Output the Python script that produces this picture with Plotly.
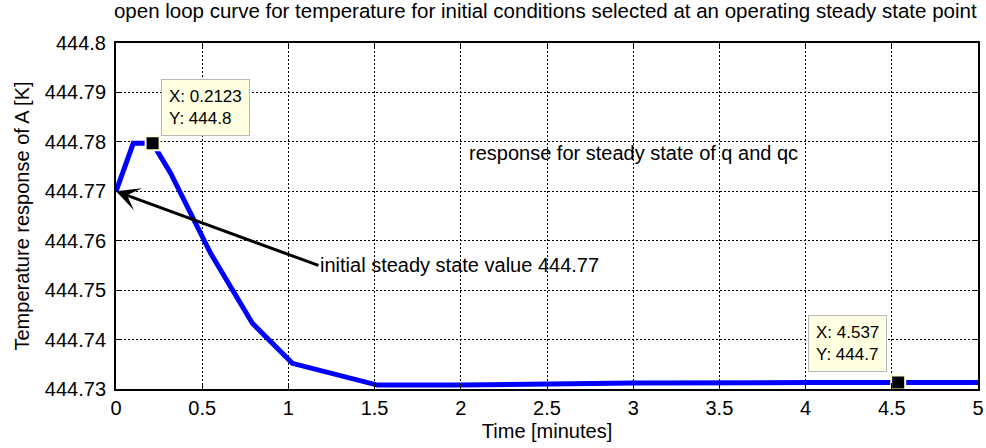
import plotly.graph_objects as go

# ---- data ----
time_min = [0, 0.1, 0.2123, 0.316, 0.548, 0.791, 1.023, 1.516, 2.0, 3.0, 4.0, 4.537, 5.0]
temp_K = [444.77, 444.7797, 444.7797, 444.7737, 444.7575, 444.7433, 444.7352,
          444.7308, 444.7308, 444.7312, 444.7313, 444.7313, 444.7313]

tip_x = [0.2123, 4.537]
tip_y = [444.7797, 444.7313]
tip_labels = ["X: 0.2123<br>Y: 444.8", "X: 4.537<br>Y: 444.7"]

y_ticks = [444.73, 444.74, 444.75, 444.76, 444.77, 444.78, 444.79, 444.80]
y_ticklabels = ["444.73", "444.74", "444.75", "444.76", "444.77", "444.78", "444.79", "444.8"]
x_ticks = [0, 0.5, 1, 1.5, 2, 2.5, 3, 3.5, 4, 4.5, 5]
x_ticklabels = ["0", "0.5", "1", "1.5", "2", "2.5", "3", "3.5", "4", "4.5", "5"]

initial_value = 444.77

FONT = "Liberation Sans, Arial, sans-serif"

fig = go.Figure()
fig.add_trace(go.Scatter(x=time_min, y=temp_K, mode="lines",
                         line=dict(color="#0000ff", width=5),
                         showlegend=False, hoverinfo="skip", cliponaxis=False))
fig.add_trace(go.Scatter(x=tip_x, y=tip_y, mode="markers",
                         marker=dict(symbol="square", size=14, color="#000000",
                                     line=dict(color="#ffffe1", width=2)),
                         showlegend=False, hoverinfo="skip", cliponaxis=False))

tip_box = dict(showarrow=False, align="left", bgcolor="#ffffe1",
               bordercolor="#b8b8b8", borderwidth=1, borderpad=7,
               font=dict(family=FONT, size=17, color="#000"), yanchor="bottom")
fig.add_annotation(x=tip_x[0], y=tip_y[0], text=tip_labels[0], xanchor="left",
                   xshift=8, yshift=7, **tip_box)
fig.add_annotation(x=tip_x[1], y=tip_y[1], text=tip_labels[1], xanchor="right",
                   xshift=-11, yshift=11, **tip_box)

fig.add_annotation(x=time_min[0], y=initial_value, ax=1.174, ay=444.755,
                   axref="x", ayref="y", xref="x", yref="y",
                   text="initial steady state value 444.77", xanchor="left",
                   showarrow=True, arrowhead=3, arrowsize=1.3, arrowwidth=3,
                   arrowcolor="#000", font=dict(family=FONT, size=20, color="#000"))
fig.add_annotation(x=2.038, y=444.7777, text="response for steady state of q and qc",
                   xanchor="left", showarrow=False,
                   font=dict(family=FONT, size=20, color="#000"))

axis_common = dict(showline=True, linecolor="#000", linewidth=2, mirror="ticks",
                   ticks="inside", ticklen=6, tickcolor="#000", tickwidth=1,
                   showgrid=True, gridcolor="#000", gridwidth=1, griddash="2px,2px",
                   zeroline=False, automargin=False,
                   tickfont=dict(family=FONT, size=20, color="#000"))

fig.update_xaxes(range=[0, 5], tickvals=x_ticks, ticktext=x_ticklabels,
                 title=dict(text="Time [minutes]", standoff=6,
                            font=dict(family=FONT, size=20, color="#000")),
                 **axis_common)
fig.update_yaxes(range=[444.73, 444.8], tickvals=y_ticks, ticktext=y_ticklabels,
                 ticklabelstandoff=4,
                 title=dict(text="Temperature response of A [K]", standoff=10,
                            font=dict(family=FONT, size=20, color="#000")),
                 **axis_common)

fig.update_layout(
    width=986, height=448,
    margin=dict(l=116, r=8, t=43, b=59, autoexpand=False),
    paper_bgcolor="#ffffff", plot_bgcolor="#ffffff",
    title=dict(text="open loop curve for temperature for initial conditions selected at an operating steady state point",
               x=0.553, xanchor="center", y=0.975, yanchor="middle",
               font=dict(family=FONT, size=20.5, color="#000")),
)

fig.write_html("out.html")
